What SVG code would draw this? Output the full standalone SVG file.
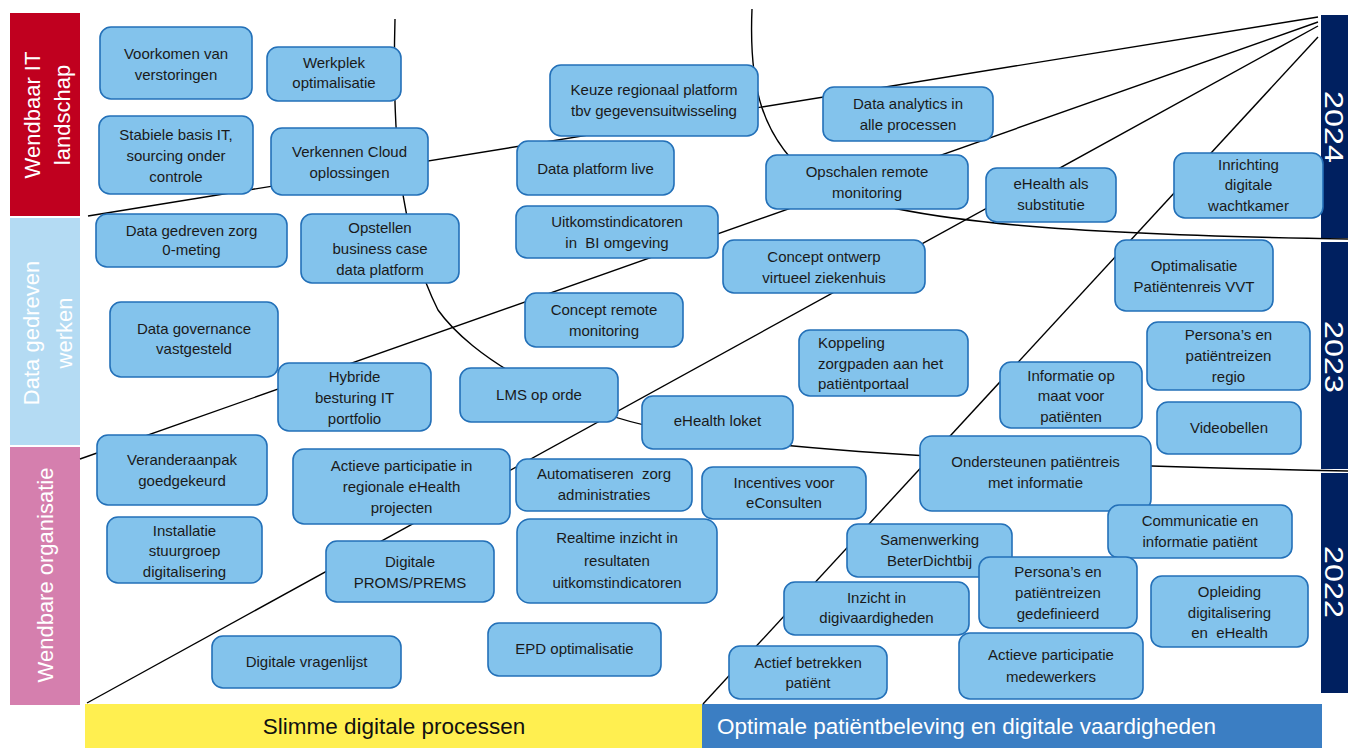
<svg xmlns="http://www.w3.org/2000/svg" width="1348" height="756" viewBox="0 0 1348 756">
<style>
.node rect{fill:#83C3EC;stroke:#2370B8;stroke-width:1.6}
.node text{font-family:"Liberation Sans",Arial,sans-serif;font-size:15px;fill:#1a1a1a;text-anchor:middle}
.node text.left{text-anchor:start}
.conn{fill:none;stroke:#000;stroke-width:1.4}
.band{font-family:"Liberation Sans",Arial,sans-serif;fill:#fff;font-size:22px;text-anchor:middle}
.year{font-family:"Liberation Sans",Arial,sans-serif;fill:#fff;font-size:25px;text-anchor:middle}
.bottom{font-family:"Liberation Sans",Arial,sans-serif;font-size:22.5px}
</style>
<rect width="1348" height="756" fill="#fff"/>
<g id="bands">
<rect x="10" y="13" width="70" height="203" fill="#C0001F"/>
<rect x="10" y="218" width="70" height="227" fill="#B4DBF3"/>
<rect x="10" y="447" width="70" height="258" fill="#D57FAE"/>
<text class="band" transform="translate(40,115) rotate(-90)">Wendbaar IT</text>
<text class="band" transform="translate(70,115) rotate(-90)">landschap</text>
<text class="band" transform="translate(39,333) rotate(-90)">Data gedreven</text>
<text class="band" transform="translate(72,333) rotate(-90)">werken</text>
<text class="band" transform="translate(53,575) rotate(-90)">Wendbare organisatie</text>
<rect x="1321" y="15" width="27" height="223" fill="#002060"/>
<rect x="1321" y="242" width="27" height="227" fill="#002060"/>
<rect x="1321" y="473" width="27" height="220" fill="#002060"/>
<text class="year" transform="translate(1325,127) rotate(90)" textLength="72" lengthAdjust="spacingAndGlyphs">2024</text>
<text class="year" transform="translate(1325,357) rotate(90)" textLength="72" lengthAdjust="spacingAndGlyphs">2023</text>
<text class="year" transform="translate(1325,582) rotate(90)" textLength="72" lengthAdjust="spacingAndGlyphs">2022</text>
<rect x="85" y="704" width="617" height="44" fill="#FFEF50"/>
<rect x="702" y="704" width="620" height="44" fill="#3B7EC3"/>
<text class="bottom" x="394" y="734" text-anchor="middle" fill="#111">Slimme digitale processen</text>
<text class="bottom" x="717" y="734" fill="#fff">Optimale patiëntbeleving en digitale vaardigheden</text>
</g>
<g id="connectors">
<line class="conn" x1="88" y1="216" x2="1318" y2="17"/>
<line class="conn" x1="80" y1="459" x2="1318" y2="22"/>
<line class="conn" x1="87" y1="703" x2="1318" y2="26"/>
<line class="conn" x1="703" y1="704" x2="1318" y2="37"/>
<path class="conn" d="M752 9 C749 80 758 140 820 185 C900 225 1100 235 1348 239"/>
<path class="conn" d="M395 19 C392 130 398 230 438 310 C470 355 560 415 700 436 C850 455 1050 465 1348 471"/>
</g>
<g id="n1" class="node"><rect x="100" y="27" width="152" height="72" rx="11"/><text x="176" y="59">Voorkomen van</text><text x="176" y="80">verstoringen</text></g>
<g id="n2" class="node"><rect x="267" y="47" width="134" height="54" rx="11"/><text x="334" y="68">Werkplek</text><text x="334" y="88">optimalisatie</text></g>
<g id="n3" class="node"><rect x="99" y="116" width="154" height="78" rx="11"/><text x="176" y="140">Stabiele basis IT,</text><text x="176" y="161">sourcing onder</text><text x="176" y="182">controle</text></g>
<g id="n4" class="node"><rect x="271" y="128" width="157" height="67" rx="11"/><text x="349.5" y="157">Verkennen Cloud</text><text x="349.5" y="178">oplossingen</text></g>
<g id="n5" class="node"><rect x="96" y="214" width="191" height="53" rx="11"/><text x="191.5" y="236">Data gedreven zorg</text><text x="191.5" y="255">0-meting</text></g>
<g id="n6" class="node"><rect x="301" y="214" width="158" height="69" rx="11"/><text x="380" y="233">Opstellen</text><text x="380" y="254">business case</text><text x="380" y="275">data platform</text></g>
<g id="n7" class="node"><rect x="110" y="302" width="168" height="75" rx="11"/><text x="194" y="334">Data governance</text><text x="194" y="354">vastgesteld</text></g>
<g id="n8" class="node"><rect x="278" y="363" width="153" height="68" rx="11"/><text x="354.5" y="382">Hybride</text><text x="354.5" y="403">besturing IT</text><text x="354.5" y="424">portfolio</text></g>
<g id="n9" class="node"><rect x="97" y="435" width="170" height="70" rx="11"/><text x="182" y="465">Veranderaanpak</text><text x="182" y="486">goedgekeurd</text></g>
<g id="n10" class="node"><rect x="107" y="517" width="155" height="66" rx="11"/><text x="184.5" y="536">Installatie</text><text x="184.5" y="556">stuurgroep</text><text x="184.5" y="577">digitalisering</text></g>
<g id="n11" class="node"><rect x="293" y="449" width="217" height="75" rx="11"/><text x="401.5" y="471">Actieve participatie in</text><text x="401.5" y="492">regionale eHealth</text><text x="401.5" y="513">projecten</text></g>
<g id="n12" class="node"><rect x="326" y="541" width="168" height="61" rx="11"/><text x="410" y="567">Digitale</text><text x="410" y="588">PROMS/PREMS</text></g>
<g id="n13" class="node"><rect x="212" y="636" width="189" height="52" rx="11"/><text x="306.5" y="667">Digitale vragenlijst</text></g>
<g id="n14" class="node"><rect x="550" y="65" width="208" height="71" rx="11"/><text x="654" y="95">Keuze regionaal platform</text><text x="654" y="116">tbv gegevensuitwisseling</text></g>
<g id="n15" class="node"><rect x="517" y="141" width="157" height="54" rx="11"/><text x="595.5" y="174">Data platform live</text></g>
<g id="n16" class="node"><rect x="516" y="206" width="202" height="52" rx="11"/><text x="617" y="227">Uitkomstindicatoren</text><text x="617" y="248" xml:space="preserve">in  BI omgeving</text></g>
<g id="n17" class="node"><rect x="525" y="293" width="158" height="54" rx="11"/><text x="604" y="315">Concept remote</text><text x="604" y="336">monitoring</text></g>
<g id="n18" class="node"><rect x="460" y="368" width="158" height="54" rx="11"/><text x="539" y="400">LMS op orde</text></g>
<g id="n19" class="node"><rect x="642" y="396" width="151" height="53" rx="11"/><text x="717.5" y="426">eHealth loket</text></g>
<g id="n20" class="node"><rect x="516" y="459" width="176" height="52" rx="11"/><text x="604" y="479" xml:space="preserve">Automatiseren  zorg</text><text x="604" y="500">administraties</text></g>
<g id="n21" class="node"><rect x="702" y="467" width="164" height="52" rx="11"/><text x="784" y="488">Incentives voor</text><text x="784" y="508">eConsulten</text></g>
<g id="n22" class="node"><rect x="517" y="519" width="200" height="84" rx="13"/><text x="617" y="543">Realtime inzicht in</text><text x="617" y="566">resultaten</text><text x="617" y="588">uitkomstindicatoren</text></g>
<g id="n23" class="node"><rect x="488" y="623" width="173" height="53" rx="11"/><text x="574.5" y="654">EPD optimalisatie</text></g>
<g id="n24" class="node"><rect x="823" y="87" width="170" height="54" rx="11"/><text x="908" y="109">Data analytics in</text><text x="908" y="130">alle processen</text></g>
<g id="n25" class="node"><rect x="766" y="155" width="202" height="54" rx="11"/><text x="867" y="177">Opschalen remote</text><text x="867" y="198">monitoring</text></g>
<g id="n26" class="node"><rect x="986" y="168" width="130" height="54" rx="11"/><text x="1051" y="189">eHealth als</text><text x="1051" y="210">substitutie</text></g>
<g id="n27" class="node"><rect x="1174" y="153" width="149" height="65" rx="11"/><text x="1248.5" y="170">Inrichting</text><text x="1248.5" y="190">digitale</text><text x="1248.5" y="211">wachtkamer</text></g>
<g id="n28" class="node"><rect x="723" y="240" width="202" height="53" rx="11"/><text x="824" y="262">Concept ontwerp</text><text x="824" y="283">virtueel ziekenhuis</text></g>
<g id="n29" class="node"><rect x="799" y="330" width="169" height="66" rx="11"/><text class="left" x="818" y="348">Koppeling</text><text class="left" x="818" y="369">zorgpaden aan het</text><text class="left" x="818" y="389">patiëntportaal</text></g>
<g id="n30" class="node"><rect x="1115" y="240" width="158" height="71" rx="11"/><text x="1194" y="271">Optimalisatie</text><text x="1194" y="292">Patiëntenreis VVT</text></g>
<g id="n31" class="node"><rect x="1147" y="322" width="163" height="68" rx="11"/><text x="1228.5" y="340">Persona’s en</text><text x="1228.5" y="361">patiëntreizen</text><text x="1228.5" y="382">regio</text></g>
<g id="n32" class="node"><rect x="1000" y="362" width="142" height="66" rx="11"/><text x="1071" y="381">Informatie op</text><text x="1071" y="401">maat voor</text><text x="1071" y="422">patiënten</text></g>
<g id="n33" class="node"><rect x="1157" y="402" width="144" height="52" rx="11"/><text x="1229" y="433">Videobellen</text></g>
<g id="n34" class="node"><rect x="920" y="436" width="231" height="75" rx="12"/><text x="1035.5" y="467">Ondersteunen patiëntreis</text><text x="1035.5" y="488">met informatie</text></g>
<g id="n35" class="node"><rect x="1108" y="505" width="184" height="53" rx="11"/><text x="1200" y="526">Communicatie en</text><text x="1200" y="547">informatie patiënt</text></g>
<g id="n36" class="node"><rect x="847" y="524" width="165" height="53" rx="11"/><text x="929.5" y="545">Samenwerking</text><text x="929.5" y="566">BeterDichtbij</text></g>
<g id="n37" class="node"><rect x="979" y="557" width="158" height="71" rx="11"/><text x="1058" y="577">Persona’s en</text><text x="1058" y="598">patiëntreizen</text><text x="1058" y="619">gedefinieerd</text></g>
<g id="n38" class="node"><rect x="784" y="582" width="185" height="53" rx="11"/><text x="876.5" y="603">Inzicht in</text><text x="876.5" y="623">digivaardigheden</text></g>
<g id="n39" class="node"><rect x="1151" y="576" width="157" height="71" rx="11"/><text x="1229.5" y="597">Opleiding</text><text x="1229.5" y="618">digitalisering</text><text x="1229.5" y="638" xml:space="preserve">en  eHealth</text></g>
<g id="n40" class="node"><rect x="959" y="633" width="184" height="66" rx="11"/><text x="1051" y="660">Actieve participatie</text><text x="1051" y="682">medewerkers</text></g>
<g id="n41" class="node"><rect x="729" y="646" width="158" height="53" rx="11"/><text x="808" y="668">Actief betrekken</text><text x="808" y="688">patiënt</text></g>
</svg>
